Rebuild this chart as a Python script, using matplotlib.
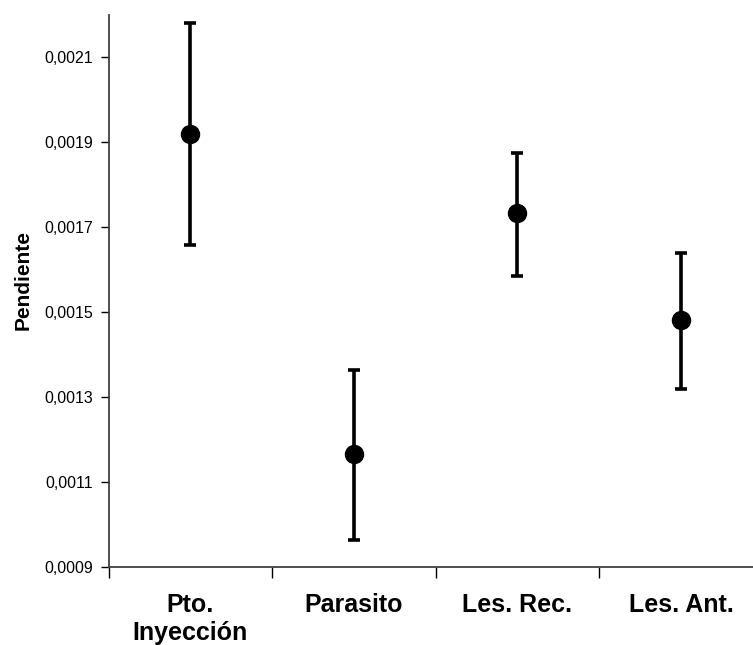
import matplotlib
matplotlib.use("Agg")
import matplotlib.pyplot as plt
from matplotlib.ticker import FixedLocator, FuncFormatter

categorias = ["Pto.\nInyección", "Parasito", "Les. Rec.", "Les. Ant."]
pendiente = [0.001919, 0.001166, 0.001733, 0.001482]
err_sup = [0.002181, 0.001364, 0.001874, 0.001640]
err_inf = [0.001658, 0.000964, 0.001585, 0.001319]
yticks = [0.0009, 0.0011, 0.0013, 0.0015, 0.0017, 0.0019, 0.0021]

plt.rcParams['font.family'] = ['Liberation Sans', 'DejaVu Sans']

fig = plt.figure(figsize=(7.53, 6.45), dpi=100)
ax = fig.add_axes([0.1444, 0.1214, 0.8685, 0.8553])

x = list(range(len(categorias)))
yerr = [[p - lo for p, lo in zip(pendiente, err_inf)],
        [hi - p for p, hi in zip(pendiente, err_sup)]]
ax.errorbar(x, pendiente, yerr=yerr, fmt='o', color='black', ms=13,
            elinewidth=2.6, capsize=4.5, capthick=2.6, zorder=3)

ax.set_xlim(-0.5, 3.5)
ax.set_ylim(0.0009, 0.0022)
ax.set_yticks(yticks)
ax.yaxis.set_major_formatter(FuncFormatter(lambda v, p: f"{v:.4f}".replace(".", ",")))
ax.tick_params(axis='y', labelsize=11.5, length=5.5, width=1, direction='out', pad=6)

# ticks at category boundaries, labels at category centres
ax.xaxis.set_major_locator(FixedLocator([-0.5, 0.5, 1.5, 2.5, 3.5]))
ax.xaxis.set_major_formatter(FuncFormatter(lambda v, p: ""))
ax.xaxis.set_minor_locator(FixedLocator(x))
ax.set_xticklabels(categorias, minor=True, fontsize=18, fontweight='bold', linespacing=1.18)
ax.tick_params(axis='x', which='major', length=8, width=1, direction='out')
ax.tick_params(axis='x', which='minor', length=0, pad=19)

for s in ['top', 'right']:
    ax.spines[s].set_visible(False)
for s in ['left', 'bottom']:
    ax.spines[s].set_linewidth(1.3)
    ax.spines[s].set_color('#404040')

ax.set_ylabel("Pendiente", fontsize=15, fontweight='bold')
ax.yaxis.set_label_coords(-0.117, 0.52)

fig.savefig("out.png", dpi=100)
